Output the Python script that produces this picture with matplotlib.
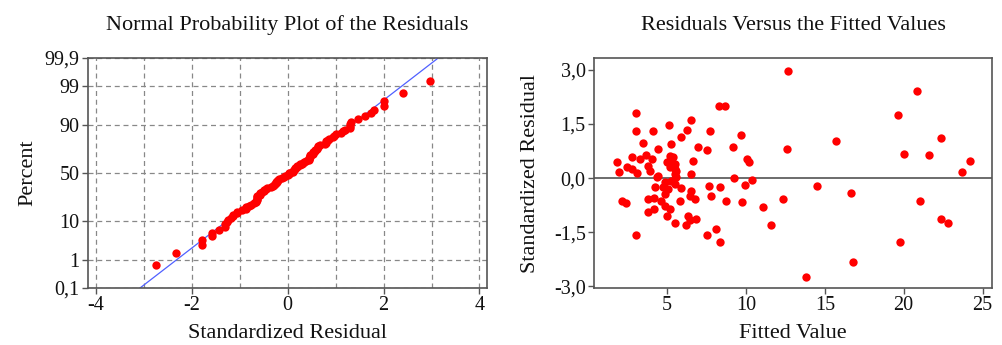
import numpy as np
import matplotlib
matplotlib.use("Agg")
import matplotlib.pyplot as plt
from matplotlib.ticker import FixedLocator, MultipleLocator
from statistics import NormalDist

# fitted values and standardized residuals
fitted = [
    1.8, 1.97, 2.12, 2.4, 2.43, 2.75, 2.79, 3.02, 3.02, 3.02, 3.1, 3.27, 3.48,
    3.69, 3.76, 3.76, 3.76, 3.9, 4.05, 4.1, 4.16, 4.16, 4.24, 4.35, 4.43, 4.43,
    4.96, 5.17, 5.38, 5.27, 5.48, 5.17, 5.48, 5.59, 5.48, 5.59, 4.85, 5.27, 5.48,
    4.75, 5.06, 4.85, 4.64, 4.85, 5.17, 4.96, 5.48, 5.9, 5.8, 6.54, 6.43, 6.75,
    6.33, 6.85, 6.43, 6.22, 6.54, 6.64, 6.96, 6.28, 5.9, 5.27, 5.13, 6.54,
    7.53, 7.53, 7.65, 7.74, 7.8, 8.1, 8.28, 8.37, 8.37, 8.7, 8.75, 9.17, 9.22,
    9.69, 9.74, 9.95, 10.05, 10.22, 10.39, 11.1, 11.6, 12.33, 12.58, 12.66,
    13.8, 14.49, 15.74, 16.64, 16.81, 19.63, 19.74, 20.05, 20.85, 21.06, 21.63,
    22.35, 22.35, 22.79, 23.69, 24.22,
]
residuals = [
    0.44, 0.16, -0.65, -0.7, 0.32, 0.25, 0.58, 1.8, 1.3, -1.58, 0.13, 0.53, 0.97,
    0.64, 0.34, -0.58, -0.94, 0.2, 0.53, 1.3, -0.54, -0.86, -0.24, 0.02, 0.81, 0.06,
    0.44, 0.62, 0.58, 0.46, 0.39, 0.30, 0.25, 0.20, 0.11, 0.02, -0.12, -0.07, -0.17,
    -0.26, -0.31, -0.45, -0.63, -0.77, -0.86, -1.05, -1.25, -0.28, -0.63, -0.35, -0.49, -0.58,
    -1.05, -1.14, -1.17, -1.3, 0.11, 0.46, 0.87, 1.33, 1.15, 0.95, 1.46, 1.62,
    0.78, -1.58, -0.21, 1.3, -0.49, -1.42, 2.01, -0.24, -1.78, 2.01, -0.63, 0.85, 0.0,
    1.2, -0.66, -0.19, 0.53, 0.44, -0.06, -0.8, -1.3, -0.58, 0.81, 2.97,
    -2.74, -0.21, 1.02, -0.42, -2.32, 1.74, -1.78, 0.67, 2.41, -0.63, 0.64,
    1.11, -1.14, -1.26, 0.16, 0.46,
]
pct_ticks = [0.1, 1, 10, 50, 90, 99, 99.9]
pct_labels = ["0,1", "1", "10", "50", "90", "99", "99,9"]
res_ticks = [-3.0, -1.5, 0.0, 1.5, 3.0]
res_labels = ["-3,0", "-1,5", "0,0", "1,5", "3,0"]

plt.rcParams["font.family"] = ["Liberation Serif", "DejaVu Serif"]
plt.rcParams["axes.unicode_minus"] = False

nd = NormalDist()
_ppf = np.vectorize(nd.inv_cdf, otypes=[float])
_cdf = np.vectorize(nd.cdf, otypes=[float])


def to_z(p):
    p = np.clip(np.asarray(p, dtype=float), 1e-9, 100 - 1e-9)
    return _ppf(p / 100.0)


def from_z(z):
    return _cdf(np.asarray(z, dtype=float)) * 100.0


def style_axes(ax):
    for s in ax.spines.values():
        s.set_color("#555555")
        s.set_linewidth(1.2)
    ax.tick_params(direction="out", length=4, width=1, color="#555555",
                   labelsize=14.5, pad=2, labelcolor="#111111")


fig = plt.figure(figsize=(10.03, 3.45), dpi=100)
ax1 = fig.add_axes([0.0877, 0.1652, 0.398, 0.6667])
ax2 = fig.add_axes([0.5922, 0.1652, 0.3968, 0.6667])

# normal probability plot
r = np.sort(np.array(residuals))
n = len(r)
pct = (np.arange(1, n + 1) - 0.3) / (n + 0.4) * 100
mu, sd = r.mean(), r.std(ddof=1)

ax1.set_yscale("function", functions=(to_z, from_z))
ax1.set_ylim(0.1, 99.9)
ax1.set_xlim(-4.16, 4.16)
ax1.yaxis.set_major_locator(FixedLocator(pct_ticks))
ax1.set_yticklabels(pct_labels)
ax1.yaxis.set_minor_locator(FixedLocator([]))
ax1.xaxis.set_major_locator(MultipleLocator(2))
ax1.xaxis.set_minor_locator(MultipleLocator(1))
ax1.tick_params(axis="x", which="minor", length=0)
ax1.grid(True, which="both", axis="x", ls=(0, (4, 3)), color="#888888", lw=0.9)
ax1.grid(True, which="major", axis="y", ls=(0, (4, 3)), color="#888888", lw=0.9)
ax1.set_axisbelow(True)
zq = np.array([nd.inv_cdf(0.001), nd.inv_cdf(0.999)])
ax1.plot(mu + sd * zq, [0.1, 99.9], color="#5060ff", lw=0.9, zorder=2)
ax1.plot(r, pct, "o", color="#ff0000", ms=6, mec="none", zorder=3)
ax1.set_title("Normal Probability Plot of the Residuals", fontsize=16, pad=20,
              color="#111111")
ax1.set_xlabel("Standardized Residual", fontsize=16, labelpad=6, color="#111111")
ax1.set_ylabel("Percent", fontsize=16, labelpad=5, color="#111111")
style_axes(ax1)

# residuals versus fits
ax2.axhline(0, color="#444444", lw=1.1, zorder=1)
ax2.plot(fitted, residuals, "o", color="#ff0000", ms=6, mec="none", zorder=3)
ax2.set_xlim(0.36, 25.6)
ax2.set_ylim(-3.05, 3.33)
ax2.set_xticks([5, 10, 15, 20, 25])
ax2.set_yticks(res_ticks)
ax2.set_yticklabels(res_labels)
ax2.set_title("Residuals Versus the Fitted Values", fontsize=16, pad=20,
              color="#111111")
ax2.set_xlabel("Fitted Value", fontsize=16, labelpad=6, color="#111111")
ax2.set_ylabel("Standardized Residual", fontsize=16, labelpad=10, color="#111111")
style_axes(ax2)

fig.savefig("out.png", dpi=100)
